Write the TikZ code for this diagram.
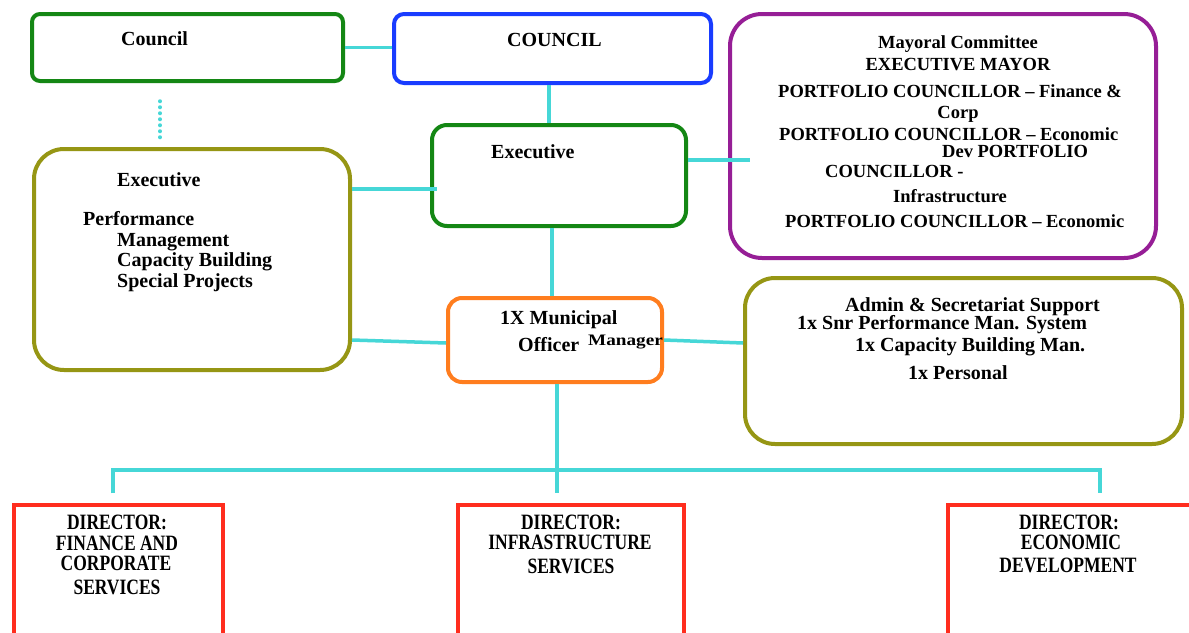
\documentclass[tikz,border=0pt]{standalone}
\usepackage{fontspec}
\setmainfont{Liberation Serif}
\definecolor{cgreen}{RGB}{20,135,20}
\definecolor{cblue}{RGB}{25,60,255}
\definecolor{cpurple}{RGB}{150,30,150}
\definecolor{colive}{RGB}{150,150,20}
\definecolor{corange}{RGB}{255,125,30}
\definecolor{cred}{RGB}{255,45,30}
\definecolor{ccyan}{RGB}{70,215,215}
\tikzset{
  box/.style={draw, line width=4pt, fill=none, inner sep=0pt},
  dirbox/.style={draw=cred, line width=3.5pt, inner sep=0pt},
  link/.style={draw=ccyan, line width=3.5pt},
  txt/.style={inner sep=0pt, font=\bfseries\fontsize{20}{24}\selectfont},
  mtxt/.style={inner sep=0pt, font=\bfseries\fontsize{18.5}{22}\selectfont},
  dtxt/.style={inner sep=0pt, anchor=base, font=\bfseries\fontsize{17.5}{21}\selectfont},
}
\newcommand{\tall}[1]{\scalebox{1}[1.25]{#1}}
\begin{document}
\begin{tikzpicture}[x=1pt,y=-1pt]
\clip (0,0) rectangle (1189,632);
\fill[white] (0,0) rectangle (1189,632);
% boxes
\node[box, draw=cgreen, rounded corners=8pt, minimum width=311pt, minimum height=67pt] (council) at (187.5,47.5) {};
\node[box, draw=cblue, rounded corners=10pt, minimum width=317pt, minimum height=69pt] (COUNCIL) at (552.5,48.5) {};
\node[box, draw=cpurple, rounded corners=32pt, minimum width=426pt, minimum height=244pt] (mayor) at (943,136) {};
\node[box, draw=cgreen, rounded corners=15pt, minimum width=254pt, minimum height=101pt] (exec) at (559,175.5) {};
\node[box, draw=colive, rounded corners=30pt, minimum width=316pt, minimum height=221pt] (left) at (192,259.5) {};
\node[box, draw=corange, rounded corners=14pt, minimum width=214pt, minimum height=84pt] (mm) at (555,340) {};
\node[box, draw=colive, rounded corners=30pt, minimum width=437pt, minimum height=166pt] (rbox) at (963.5,361) {};
\node[dirbox, minimum width=209pt, minimum height=145pt] (d1) at (118.5,577.5) {};
\node[dirbox, minimum width=226pt, minimum height=145pt] (d2) at (571,577.5) {};
\node[dirbox, minimum width=247pt, minimum height=145pt] (d3) at (1071.5,577.5) {};
% connectors
\coordinate (dotA) at (160,101);
\coordinate (dotB) at (160,142);
\coordinate (bL) at (113,470);
\coordinate (bR) at (1100,470);
\draw[link] (council.east) -- (COUNCIL.west |- council.east);
\draw[link, line cap=round, dash pattern=on 0.5pt off 5.5pt] (dotA) -- (dotB);
\draw[link] (COUNCIL.south -| 549,0) -- (exec.north -| 549,0);
\draw[link] (exec.east |- 0,160) -- ([xshift=22pt]mayor.west |- 0,160);
\draw[link] (left.east |- 0,189) -- ([xshift=7pt]exec.west |- 0,189);
\draw[link] (exec.south -| 552,0) -- (mm.north -| 552,0);
\draw[link] (left.east |- 0,340) -- (mm.west |- 0,343);
\draw[link] (mm.east) -- (rbox.west |- 0,343);
\draw[link] (mm.south -| 557,0) -- (bL -| 557,0);
\draw[link] ([yshift=10pt]bL |- d1.north) -- (bL) -- (bR) -- ([yshift=10pt]bR |- d3.north);
\draw[link] (bL -| 557,0) -- ([yshift=10pt]d2.north -| 557,0);
% texts
\node[txt, anchor=base west] (t1) at (121,45) {Council};
\node[txt, anchor=base west] (t2) at (507,46) {COUNCIL};
\node[txt, anchor=base west] (t3) at (491,158) {Executive};
\node[mtxt, anchor=base] (m1) at (958,48) {Mayoral Committee};
\node[mtxt, anchor=base] (m2) at (958,70) {EXECUTIVE MAYOR};
\node[mtxt, anchor=base west] (m3) at (778,97) {PORTFOLIO COUNCILLOR – Finance \&};
\node[mtxt, anchor=base] (m4) at (958,118) {Corp};
\node[mtxt, anchor=base west] (m5) at (779,140) {PORTFOLIO COUNCILLOR – Economic};
\node[mtxt, anchor=base west] (m6) at (942,157) {Dev PORTFOLIO};
\node[mtxt, anchor=base west] (m7) at (825,177) {COUNCILLOR -};
\node[mtxt, anchor=base west] (m8) at (893,202) {Infrastructure};
\node[mtxt, anchor=base west] (m9) at (785,227) {PORTFOLIO COUNCILLOR – Economic};
\node[txt, anchor=base west] (l1) at (117,186) {Executive};
\node[txt, anchor=base west] (l2) at (83,225) {Performance};
\node[txt, anchor=base west] (l3) at (117,246) {Management};
\node[txt, anchor=base west] (l4) at (117,266) {Capacity Building};
\node[txt, anchor=base west] (l5) at (117,287) {Special Projects};
\node[txt, anchor=base west] (o1) at (500,324) {1X Municipal};
\node[txt, anchor=base west] (o2) at (518,351) {Officer};
\node[txt, anchor=base west, font=\bfseries\fontsize{16}{19}\selectfont] (o3) at (588,345) {\scalebox{1.2}[1]{Manager}};
\node[txt, anchor=base west] (r1) at (845,311) {Admin \& Secretariat Support};
\node[txt, anchor=base west] (r2) at (797,329) {1x Snr Performance Man. System};
\node[txt, anchor=base west] (r3) at (855,351) {1x Capacity Building Man.};
\node[txt, anchor=base west] (r4) at (908,379) {1x Personal};
\node[dtxt] (a1) at (117,529) {\tall{DIRECTOR:}};
\node[dtxt] (a2) at (117,550) {\tall{FINANCE AND}};
\node[dtxt] (a3) at (116,570) {\tall{CORPORATE}};
\node[dtxt] (a4) at (117,594) {\tall{SERVICES}};
\node[dtxt] (b1) at (571,529) {\tall{DIRECTOR:}};
\node[dtxt] (b2) at (570,549) {\tall{INFRASTRUCTURE}};
\node[dtxt] (b3) at (571,573) {\tall{SERVICES}};
\node[dtxt] (c1) at (1069,529) {\tall{DIRECTOR:}};
\node[dtxt] (c2) at (1071,549) {\tall{ECONOMIC}};
\node[dtxt] (c3) at (1068,572) {\tall{DEVELOPMENT}};
\end{tikzpicture}
\end{document}
